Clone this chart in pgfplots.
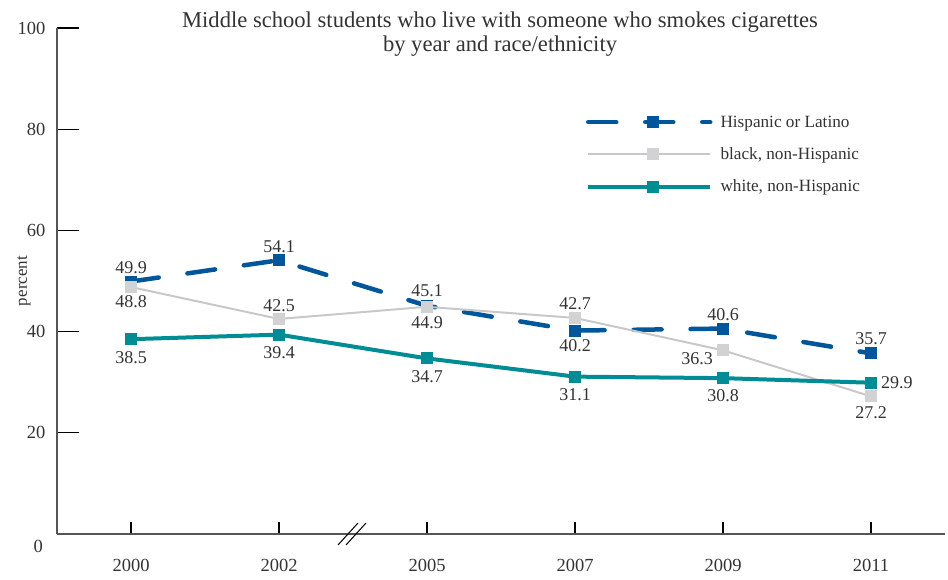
\documentclass[border=0pt]{standalone}
\usepackage{fontspec}
\setmainfont{Liberation Serif}
\usepackage{pgfplots}
\pgfplotsset{compat=1.18}
\definecolor{hisp}{HTML}{00569A}
\definecolor{blk}{HTML}{C8C8C8}
\definecolor{blkm}{HTML}{D2D2D4}
\definecolor{wht}{HTML}{008C95}
\definecolor{axisgray}{HTML}{555555}
\definecolor{textgray}{HTML}{333333}
\tikzset{lbl/.style={font=\fontsize{18}{21}\selectfont, text=textgray, inner sep=0pt}}
\begin{document}
\begin{tikzpicture}
\begin{axis}[
  scale only axis, width=888pt, height=506pt,
  xmin=-0.5, xmax=5.5, ymin=0, ymax=100,
  axis x line*=bottom, axis y line*=left,
  axis line style={draw=axisgray, line width=1.5pt},
  xtick={0,...,5}, xticklabels={2000,2002,2005,2007,2009,2011},
  ytick={0,20,40,60,80,100}, yticklabels={,20,40,60,80,100},
  tick align=inside, major tick length=22pt,
  xtick style={/pgfplots/major tick length=12pt, black, line width=1.2pt},
  ytick style={black, line width=1.2pt},
  ticklabel style={font=\fontsize{18.5}{21}\selectfont, text=textgray},
  xticklabel shift=22pt, yticklabel shift=8pt,
  ylabel={percent},
  every axis y label/.style={at={(axis description cs:-0.0372,0.5)}, rotate=90, anchor=center, font=\fontsize{17}{20}\selectfont, text=textgray},
  clip=false,
  legend style={at={(axis description cs:0.5955,0.75)}, anchor=west, draw=none, fill=none,
    font=\fontsize{17.2}{20}\selectfont, text=textgray, row sep=19pt, column sep=8pt,
    inner sep=0pt, nodes={inner sep=0pt}},
  legend cell align=left,
  legend image code/.code={\draw[#1, mark repeat=2, mark phase=2] plot coordinates {(0pt,0pt) (65pt,0pt) (122pt,0pt)};},
]
\addplot[hisp, line width=4.5pt, line cap=round, dash pattern=on 28pt off 29pt,
  mark=square*, mark size=5.5pt, mark options={solid, fill=hisp, draw=hisp, line width=0pt}]
  coordinates {(0,49.9) (1,54.1) (2,45.1) (3,40.2) (4,40.6) (5,35.7)};
\addlegendentry{Hispanic or Latino}
\addplot[blk, line width=2pt,
  mark=square*, mark size=5.5pt, mark options={fill=blkm, draw=blkm, line width=0pt}]
  coordinates {(0,48.8) (1,42.5) (2,44.9) (3,42.7) (4,36.3) (5,27.2)};
\addlegendentry{black, non-Hispanic}
\addplot[wht, line width=4pt,
  mark=square*, mark size=5.5pt, mark options={fill=wht, draw=wht, line width=0pt}]
  coordinates {(0,38.5) (1,39.4) (2,34.7) (3,31.1) (4,30.8) (5,29.9)};
\addlegendentry{white, non-Hispanic}

% data labels
\node[lbl] at ([yshift=14pt]axis cs:0,49.9) {49.9};
\node[lbl] at ([yshift=13.5pt]axis cs:1,54.1) {54.1};
\node[lbl] at ([yshift=15pt]axis cs:2,45.1) {45.1};
\node[lbl] at ([yshift=-15pt]axis cs:3,40.2) {40.2};
\node[lbl] at ([yshift=14pt]axis cs:4,40.6) {40.6};
\node[lbl] at ([yshift=15pt]axis cs:5,35.7) {35.7};

\node[lbl] at ([yshift=-15pt]axis cs:0,48.8) {48.8};
\node[lbl] at ([yshift=13.5pt]axis cs:1,42.5) {42.5};
\node[lbl] at ([yshift=-16pt]axis cs:2,44.9) {44.9};
\node[lbl] at ([yshift=14pt]axis cs:3,42.7) {42.7};
\node[lbl, anchor=east] at ([xshift=-10pt,yshift=-8pt]axis cs:4,36.3) {36.3};
\node[lbl] at ([yshift=-16pt]axis cs:5,27.2) {27.2};

\node[lbl] at ([yshift=-18pt]axis cs:0,38.5) {38.5};
\node[lbl] at ([yshift=-18pt]axis cs:1,39.4) {39.4};
\node[lbl] at ([yshift=-18pt]axis cs:2,34.7) {34.7};
\node[lbl] at ([yshift=-18pt]axis cs:3,31.1) {31.1};
\node[lbl] at ([yshift=-17pt]axis cs:4,30.8) {30.8};
\node[lbl, anchor=west] at ([xshift=10pt]axis cs:5,29.9) {29.9};

% zero tick label
\node[lbl, font=\fontsize{18.5}{21}\selectfont, anchor=east] at ([xshift=-14pt,yshift=-12pt]axis cs:-0.5,0) {0};

% axis break
\draw[black, line width=1pt] ([shift={(-15pt,-11pt)}]axis cs:1.5,0) -- ([shift={(5pt,11pt)}]axis cs:1.5,0);
\draw[black, line width=1pt] ([shift={(-7pt,-11pt)}]axis cs:1.5,0) -- ([shift={(13pt,11pt)}]axis cs:1.5,0);

% title
\node[font=\fontsize{22.6}{25}\selectfont, text=textgray, anchor=base] at (axis description cs:0.4989,1.0)
  {Middle school students who live with someone who smokes cigarettes};
\node[font=\fontsize{22.6}{25}\selectfont, text=textgray, anchor=base] at (axis description cs:0.4989,0.9545)
  {by year and race/ethnicity};
\end{axis}
\pgfresetboundingbox
\path ([shift={(-57pt,-45pt)}]current axis.south west) rectangle ([shift={(3pt,28pt)}]current axis.north east);
\end{tikzpicture}
\end{document}
